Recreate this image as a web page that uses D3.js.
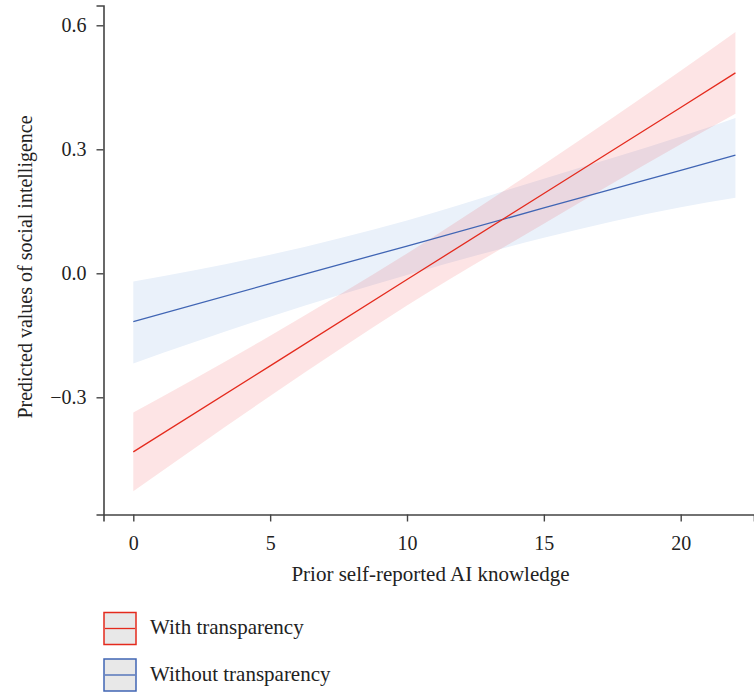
<!DOCTYPE html>
<html>
<head>
<meta charset="utf-8">
<script src="https://cdn.jsdelivr.net/npm/d3@7"></script>
<style>
  html, body { margin: 0; padding: 0; background: #fff; }
  svg text { font-family: "Liberation Serif", "Times New Roman", serif; fill: #222; }
</style>
</head>
<body>
<script>
'use strict';

// values
const knowledge = [0, 5, 10, 15, 20, 22];

const withFit   = [-0.432, -0.224, -0.015, 0.193, 0.401, 0.485];
const withLow   = [-0.527, -0.297, -0.078, 0.120, 0.312, 0.386];
const withHigh  = [-0.337, -0.151, 0.048, 0.264, 0.490, 0.584];

const withoutFit  = [-0.117, -0.025, 0.066, 0.158, 0.249, 0.286];
const withoutLow  = [-0.218, -0.105, -0.004, 0.086, 0.160, 0.183];
const withoutHigh = [-0.020, 0.045, 0.128, 0.229, 0.331, 0.376];

const xTicks = [0, 5, 10, 15, 20];
const yTicks = [-0.3, 0, 0.3, 0.6];

const legendLabels = ["With transparency", "Without transparency"];

(function() {
  const svg = d3.select('body')
    .append('svg')
    .attr('width', 754)
    .attr('height', 693);

  // scales
  let xScale = d3.scaleLinear().domain([0, 20]).range([133.3, 680.7]);
  let yScale = d3.scaleLinear().domain([0.6, -0.3]).range([25.3, 397.3]);
  let xLeft = 103.5, xRight = 754;
  let yTop = 5.5, yBottom = 514.5;

  // build rows for areas / lines
  function rows(fit, lo, hi) {
    return knowledge.map((k, i) => ({x: k, fit: fit[i], lo: lo[i], hi: hi[i]}));
  }
  let series = [
    {rows: rows(withoutFit, withoutLow, withoutHigh), line: '#4065b4', band: '#eaf1fa', op: 1},
    {rows: rows(withFit, withLow, withHigh), line: '#e42a1d', band: 'rgb(232,0,10)', op: 0.105}
  ];

  let area = d3.area()
    .curve(d3.curveMonotoneX)
    .x(d => xScale(d.x))
    .y0(d => yScale(d.lo))
    .y1(d => yScale(d.hi));

  let line = d3.line()
    .x(d => xScale(d.x))
    .y(d => yScale(d.fit));

  // bands
  series.forEach(s => {
    svg.append('path')
      .datum(s.rows)
      .attr('fill', s.band)
      .attr('fill-opacity', s.op)
      .attr('d', area);
  });

  // fitted lines
  series.forEach(s => {
    svg.append('path')
      .datum(s.rows)
      .attr('fill', 'none')
      .attr('stroke', s.line)
      .attr('stroke-width', 1.3)
      .attr('d', line);
  });

  // x axis, domain stretched to the plot frame
  let xAxisScale = d3.scaleLinear()
    .domain([xScale.invert(xLeft), xScale.invert(xRight)])
    .range([xLeft, xRight]);
  let xAxis = d3.axisBottom(xAxisScale).tickValues(xTicks).tickSizeOuter(0).tickSize(7).tickPadding(14);
  let gx = svg.append('g')
    .attr('transform', 'translate(0,' + yBottom + ')')
    .call(xAxis);

  // y axis
  let yAxisScale = d3.scaleLinear()
    .domain([yScale.invert(yTop), yScale.invert(yBottom)])
    .range([yTop, yBottom]);
  let yAxis = d3.axisLeft(yAxisScale).tickValues(yTicks).tickFormat(d3.format('.1f'))
    .tickSizeOuter(0).tickSize(7).tickPadding(10);
  let gy = svg.append('g')
    .attr('transform', 'translate(' + xLeft + ',0)')
    .call(yAxis);

  [gx, gy].forEach(g => {
    g.attr('font-family', null);
    g.select('.domain').attr('stroke', '#444').attr('stroke-width', 1.6);
    g.selectAll('.tick line').attr('stroke', '#444').attr('stroke-width', 1.4);
    g.selectAll('.tick text').style('font-size', '20px').attr('fill', '#222');
  });

  // axis titles
  svg.append('text')
    .attr('x', 430.5)
    .attr('y', 581)
    .attr('text-anchor', 'middle')
    .style('font-size', '21px')
    .text('Prior self-reported AI knowledge');

  svg.append('text')
    .attr('transform', 'translate(32, 267)rotate(-90)')
    .attr('text-anchor', 'middle')
    .style('font-size', '20px')
    .text('Predicted values of social intelligence');

  // legend
  let legendColors = ['#e42a1d', '#4065b4'];
  legendLabels.forEach((label, i) => {
    let y0 = 612.5 + i * 46.5;
    let g = svg.append('g');
    g.append('rect')
      .attr('x', 104).attr('y', y0)
      .attr('width', 32).attr('height', 32)
      .attr('fill', '#e8e8e8')
      .attr('stroke', legendColors[i])
      .attr('stroke-width', 1.5);
    g.append('line')
      .attr('x1', 105).attr('x2', 135)
      .attr('y1', y0 + 16).attr('y2', y0 + 16)
      .attr('stroke', legendColors[i])
      .attr('stroke-width', 1.3);
    g.append('text')
      .attr('x', 150)
      .attr('y', y0 + 21.5)
      .style('font-size', '21px')
      .text(label);
  });
})();
</script>
</body>
</html>
